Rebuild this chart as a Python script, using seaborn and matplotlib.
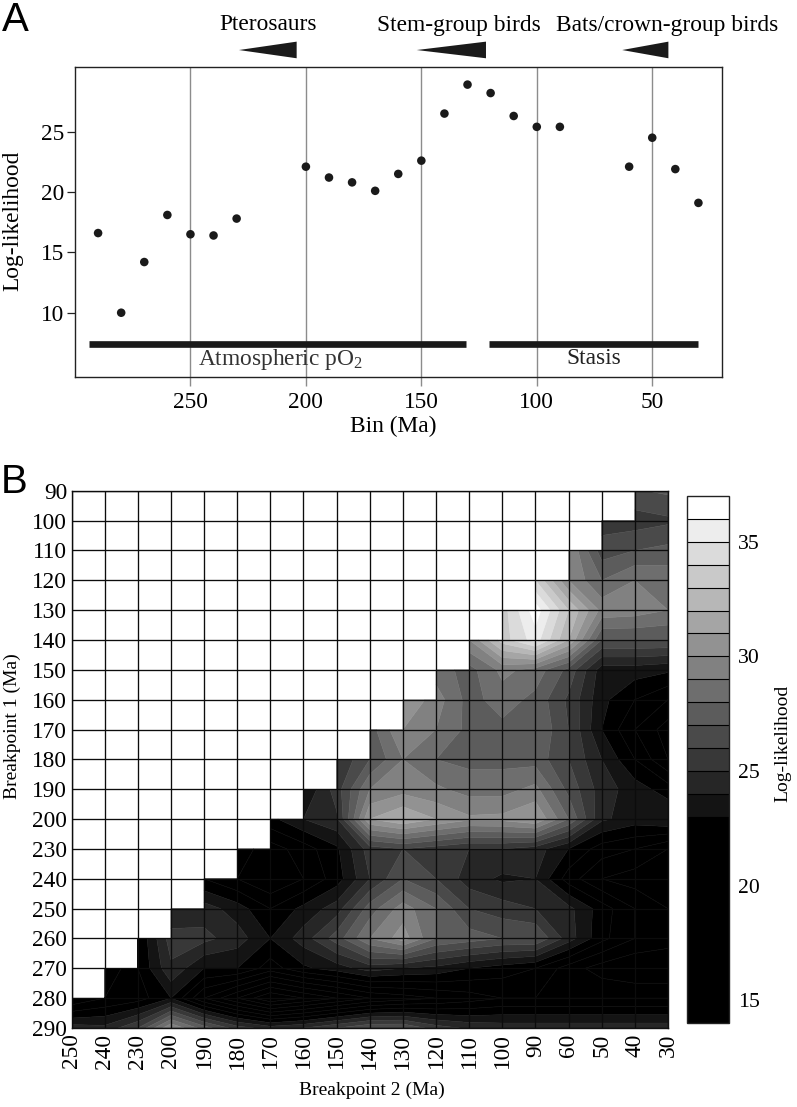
import numpy as np
import matplotlib
matplotlib.use("Agg")
import matplotlib.pyplot as plt
from matplotlib.transforms import blended_transform_factory
import seaborn as sns

# ---------- Panel A data ----------
bin_ma = [290, 280, 270, 260, 250, 240, 230, 200, 190, 180, 170, 160, 150, 140, 130, 120, 110, 100, 90, 60, 50, 40, 30]
loglik = [16.6, 10.0, 14.2, 18.1, 16.5, 16.4, 17.8, 22.1, 21.2, 20.8, 20.1, 21.5, 22.6, 26.5, 28.9, 28.2, 26.3, 25.4, 25.4, 22.1, 24.5, 21.9, 19.1]
guide_ma = [250, 200, 150, 100, 50]
y_ticks_a = [10, 15, 20, 25]
pO2_span = [294, 130.5]
stasis_span = [120.5, 30]
wedge_names = ["Pterosaurs", "Stem-group birds", "Bats/crown-group birds"]
wedge_tip = [229, 152, 63]
wedge_base = [204, 122, 43]

# ---------- Panel B data ----------
bp2 = [250, 240, 230, 200, 190, 180, 170, 160, 150, 140, 130, 120, 110, 100, 90, 60, 50, 40, 30]
bp1 = [90, 100, 110, 120, 130, 140, 150, 160, 170, 180, 190, 200, 230, 240, 250, 260, 270, 280, 290]
# each row holds the values of its defined right-hand columns
r090 = [26.9, 27.2]
r100 = [25.5, 25.5, 25.8]
r110 = [30.0, 26.5, 27.0, 27.3]
r120 = [34.0, 30.0, 28.0, 29.0, 28.7]
r130 = [33.5, 36.6, 33.0, 29.7, 29.5, 29.0]
r140 = [30.0, 33.5, 35.5, 32.0, 27.0, 27.0, 27.0]
r150 = [28.5, 27.6, 29.3, 28.6, 26.7, 23.5, 23.5, 23.2]
r160 = [31.0, 29.5, 27.6, 28.5, 27.7, 25.8, 23.3, 22.0, 21.0]
r170 = [27.5, 30.0, 29.0, 27.7, 27.7, 28.0, 26.0, 23.0, 21.0, 19.5]
r180 = [25.0, 27.0, 29.0, 28.0, 27.7, 27.7, 27.6, 26.0, 24.0, 22.0, 20.0]
r190 = [23.0, 25.5, 29.0, 29.6, 29.2, 28.6, 28.6, 29.3, 26.7, 24.5, 23.5, 22.5]
r200 = [22.7, 24.0, 24.8, 31.0, 32.0, 31.0, 30.2, 30.3, 31.0, 28.0, 24.2, 23.5, 24.0]
r230 = [21.5, 20.5, 21.5, 22.8, 25.5, 26.0, 25.5, 25.0, 25.0, 24.5, 23.0, 21.5, 21.0, 20.0]
r240 = [22.0, 21.0, 20.0, 21.0, 22.5, 25.0, 27.0, 26.0, 24.5, 23.8, 24.0, 21.5, 20.0, 19.5, 19.5]
r250 = [24.0, 24.5, 23.5, 22.0, 23.3, 24.5, 27.5, 29.5, 28.0, 26.0, 25.5, 25.0, 24.3, 22.5, 21.0, 20.0]
r260 = [22.0, 25.5, 25.3, 24.5, 23.0, 24.5, 26.5, 29.0, 30.5, 28.0, 27.5, 27.0, 27.0, 24.5, 22.3, 21.0, 20.5]
r270 = [20.0, 22.0, 24.8, 23.0, 23.0, 21.5, 22.8, 23.5, 24.5, 24.0, 23.7, 23.0, 22.5, 22.0, 20.5, 19.5, 19.0, 19.0]
r280 = [20.0, 21.0, 21.5, 23.0, 20.0, 18.0, 16.0, 17.0, 18.0, 19.0, 19.5, 20.0, 20.5, 21.0, 21.0, 21.0, 21.0, 21.0, 21.0]
r290 = [24.5, 24.3, 26.0, 30.0, 27.5, 25.5, 24.5, 25.0, 26.0, 27.0, 27.0, 25.5, 24.8, 24.6, 24.6, 24.6, 24.6, 24.6, 24.6]
rows = [r090, r100, r110, r120, r130, r140, r150, r160, r170, r180, r190, r200,
        r230, r240, r250, r260, r270, r280, r290]
cb_ticks = [15, 20, 25, 30, 35]
levels = list(range(14, 38))

# ---------- Style ----------
sns.set_theme(style="white")
plt.rcParams["font.family"] = ["Liberation Serif", "DejaVu Serif"]
plt.rcParams["mathtext.default"] = "regular"
plt.rcParams["axes.edgecolor"] = "#222222"
FS = 16.8
FS_B = 14
FS_CB = 15.6

W, H = 797, 1107
fig = plt.figure(figsize=(W / 100, H / 100), dpi=100)


def box(l, t, r, b):
    return [l / W, 1 - b / H, (r - l) / W, (b - t) / H]


# ---------- Panel A ----------
ax = fig.add_axes(box(75, 66.5, 721.5, 377.3))
ax.set_xlim(300, 20)
ax.set_ylim(4.65, 30.4)
for m in guide_ma:
    ax.axvline(m, color="#8c8c8c", lw=1.0, zorder=1)
ax.hlines(7.45, *pO2_span, color="#1a1a1a", lw=4.8, zorder=2, capstyle="butt")
ax.hlines(7.45, *stasis_span, color="#1a1a1a", lw=4.8, zorder=2, capstyle="butt")
sns.scatterplot(x=bin_ma, y=loglik, ax=ax, color="#1a1a1a", s=38, edgecolor="none",
                zorder=3, clip_on=False)
ax.set_xticks(guide_ma)
ax.set_yticks(y_ticks_a)
ax.tick_params(axis="x", length=6.4, width=1.0, color="#8c8c8c", labelsize=FS, pad=4,
               bottom=True, labelcolor="black")
ax.tick_params(axis="y", length=6, width=0.9, color="#222222", labelsize=FS, pad=2,
               left=True, labelcolor="black")
for s in ax.spines.values():
    s.set_linewidth(1.0)
ax.set_xlabel("Bin (Ma)", fontsize=FS, color="black")
ax.xaxis.set_label_coords(393 / W, 1 - 426 / H, transform=fig.transFigure)
ax.xaxis.label.set_verticalalignment("center")
ax.set_ylabel("Log-likelihood", fontsize=FS, color="black")
ax.yaxis.set_label_coords(13 / W, 1 - 221 / H, transform=fig.transFigure)
ax.yaxis.label.set_verticalalignment("center")
ax.text(280 / W, 1 - 360 / H, "Atmospheric pO$_2$", transform=fig.transFigure,
        ha="center", va="center", fontsize=FS, color="#333333")
ax.text(594 / W, 1 - 359 / H, "Stasis", transform=fig.transFigure,
        ha="center", va="center", fontsize=FS, color="#222222")
tr = blended_transform_factory(ax.transData, ax.transAxes)
for tip, base in zip(wedge_tip, wedge_base):
    ax.fill([tip, base, base], [1.053, 1.080, 1.0265], color="#1a1a1a", lw=0,
            transform=tr, clip_on=False)
for name, cx in zip(wedge_names, [268, 459, 667]):
    fig.text(cx / W, 1 - 25 / H, name, ha="center", va="center", fontsize=FS, color="black")

fig.text(2 / W, 1 - 31 / H, "A", family="Liberation Sans", fontsize=29, ha="left",
         va="baseline", color="black")
fig.text(1 / W, 1 - 493 / H, "B", family="Liberation Sans", fontsize=29, ha="left",
         va="baseline", color="black")

# ---------- Panel B ----------
n = len(bp2)
Z = np.array([[np.nan] * (n - len(r)) + r for r in rows], dtype=float)
greys = sns.blend_palette(["#141414", "#ffffff"], 14)
colors = ["#000000"] * 9 + list(greys)

axb = fig.add_axes(box(71.5, 490.7, 668, 1028))
X, Y = np.meshgrid(np.arange(n), np.arange(len(bp1)))
cf = axb.contourf(X, Y, Z, levels=levels, colors=colors, corner_mask=False, antialiased=True)
cf.set_edgecolor("face")
cf.set_linewidth(0.35)
axb.contour(X, Y, Z, levels=levels[:9], colors="#101010", linewidths=0.45, corner_mask=False)
axb.set_xlim(0, n - 1)
axb.set_ylim(len(bp1) - 1, 0)
axb.set_xticks(np.arange(n))
axb.set_xticklabels(bp2, rotation=90)
axb.set_yticks(np.arange(len(bp1)))
axb.set_yticklabels(bp1)
axb.tick_params(axis="both", length=0, labelsize=FS, labelcolor="black")
axb.tick_params(axis="x", pad=4)
axb.tick_params(axis="y", pad=3)
axb.grid(True, color="#0c0c0c", lw=0.95)
axb.set_axisbelow(False)
for s in axb.spines.values():
    s.set_linewidth(1.0)
    s.set_color("#111111")
axb.set_xlabel("Breakpoint 2 (Ma)", fontsize=FS_B, color="black")
axb.xaxis.set_label_coords(372 / W, 1 - 1090 / H, transform=fig.transFigure)
axb.xaxis.label.set_verticalalignment("center")
axb.set_ylabel("Breakpoint 1 (Ma)", fontsize=FS_B, color="black")
axb.yaxis.set_label_coords(12 / W, 1 - 726 / H, transform=fig.transFigure)
axb.yaxis.label.set_verticalalignment("center")

# ---------- Colour bar ----------
cax = fig.add_axes(box(687, 496, 729, 1023))
cb = fig.colorbar(cf, cax=cax, ticks=cb_ticks, drawedges=True)
cb.dividers.set_color("#000000")
cb.dividers.set_linewidth(0.8)
cb.outline.set_edgecolor("#222222")
cb.outline.set_linewidth(1.0)
cb.ax.tick_params(length=0, labelsize=FS_CB, pad=6.5, labelcolor="black")
cb.set_label("Log-likelihood", fontsize=FS_B, color="black")
cb.ax.yaxis.set_label_coords(783 / W, 1 - 743 / H, transform=fig.transFigure)
cb.ax.yaxis.label.set_verticalalignment("center")

fig.savefig("out.png", dpi=100)
